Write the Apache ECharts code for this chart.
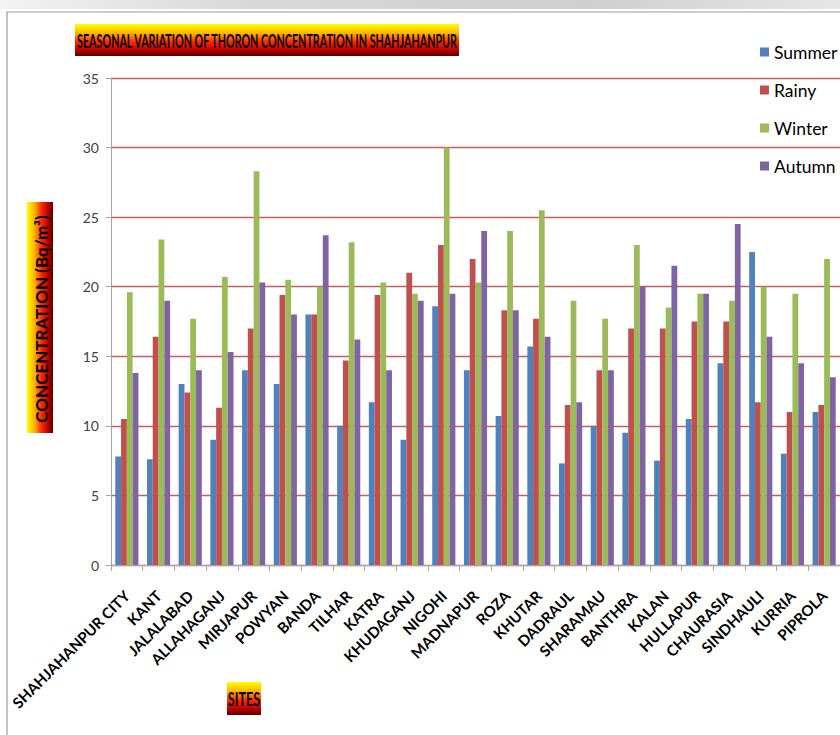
<!DOCTYPE html>
<html>
<head>
<meta charset="utf-8">
<script src="https://cdn.jsdelivr.net/npm/echarts@6/dist/echarts.min.js"></script>
<style>
html,body{margin:0;padding:0;background:#fff;}
#chart{width:840px;height:735px;}
</style>
</head>
<body>
<div id="chart"></div>
<script>
var sites = ['SHAHJAHANPUR CITY','KANT','JALALABAD','ALLAHAGANJ','MIRJAPUR','POWYAN','BANDA','TILHAR','KATRA','KHUDAGANJ','NIGOHI','MADNAPUR','ROZA','KHUTAR','DADRAUL','SHARAMAU','BANTHRA','KALAN','HULLAPUR','CHAURASIA','SINDHAULI','KURRIA','PIPROLA'];
var summer = [7.8,7.6,13.0,9.0,14.0,13.0,18.0,10.0,11.7,9.0,18.6,14.0,10.7,15.7,7.3,10.0,9.5,7.5,10.5,14.5,22.5,8.0,11.0];
var rainy  = [10.5,16.4,12.4,11.3,17.0,19.4,18.0,14.7,19.4,21.0,23.0,22.0,18.3,17.7,11.5,14.0,17.0,17.0,17.5,17.5,11.7,11.0,11.5];
var winter = [19.6,23.4,17.7,20.7,28.3,20.5,20.0,23.2,20.3,19.5,30.0,20.3,24.0,25.5,19.0,17.7,23.0,18.5,19.5,19.0,20.0,19.5,22.0];
var autumn = [13.8,19.0,14.0,15.3,20.3,18.0,23.7,16.2,14.0,19.0,19.5,24.0,18.3,16.4,11.7,14.0,20.0,21.5,19.5,24.5,16.4,14.5,13.5];
var seriesNames = ['Summer','Rainy','Winter','Autumn'];
var seriesColors = ['#4F81BD','#C0504D','#9BBB59','#8064A2'];
var yTicks = {min:0, max:35, step:5};

var chart = echarts.init(document.getElementById('chart'), null, {renderer:'svg'});
function grad(horizontal){
  return new echarts.graphic.LinearGradient(0,0,horizontal?1:0,horizontal?0:1,[
    {offset:0,color:'#ffff00'},{offset:0.3,color:'#ffb000'},{offset:0.55,color:'#ff2a00'},
    {offset:0.8,color:'#c00000'},{offset:1,color:'#5a0000'}]);
}
var allSeries = [summer,rainy,winter,autumn].map(function(d,i){
  return {name:seriesNames[i], type:'bar', data:d, barGap:'0%', barCategoryGap:'27%',
    itemStyle:{color:seriesColors[i]}, animation:false};
});
chart.setOption({
  animation:false,
  backgroundColor:'#ffffff',
  grid:{left:111, top:78, width:733, height:487, containLabel:false},
  legend:{orient:'vertical', left:755, top:38, itemWidth:9, itemHeight:9, itemGap:20, icon:'rect',
    textStyle:{fontFamily:'Lato', fontSize:17.5, color:'#000'}, data:seriesNames},
  xAxis:{type:'category', data:sites,
    axisLine:{lineStyle:{color:'#a6a6a6', width:1}},
    axisTick:{show:true, length:6, alignWithLabel:false, lineStyle:{color:'#a6a6a6'}},
    axisLabel:{interval:0, rotate:45, margin:28, fontFamily:'Lato', fontWeight:'bold', fontSize:15, color:'#000'}},
  yAxis:{type:'value', min:yTicks.min, max:yTicks.max, interval:yTicks.step,
    axisLine:{show:true, lineStyle:{color:'#a6a6a6'}},
    axisTick:{show:true, length:5, lineStyle:{color:'#a6a6a6'}},
    axisLabel:{fontFamily:'Lato', fontSize:14, color:'#404040', margin:12},
    splitLine:{lineStyle:{color:'#d05a58', width:1.3}}},
  graphic:[
    {type:'rect', x:7, y:12, shape:{x:0, y:0, width:900, height:800}, style:{fill:'none', stroke:'#9a9a9a', lineWidth:1.2}, z:-10},
    {type:'rect', x:0, y:0, shape:{x:0, y:0, width:840, height:9}, style:{fill:new echarts.graphic.LinearGradient(0,0,1,0,[{offset:0,color:'#f3f3f3'},{offset:0.3,color:'#d8d8d8'},{offset:0.7,color:'#cfcfcf'},{offset:1,color:'#e6e6e6'}])}, z:-10},
    {type:'group', x:75, y:24, children:[
      {type:'rect', shape:{x:0,y:0,width:384,height:32}, style:{fill:grad(false)}},
      {type:'text', x:192, y:17, scaleX:0.565, style:{text:'SEASONAL VARIATION OF THORON CONCENTRATION IN SHAHJAHANPUR', fill:'#000', font:'bold 19px "Lato"', textAlign:'center', textVerticalAlign:'middle'}}
    ]},
    {type:'group', x:27, y:202, children:[
      {type:'rect', shape:{x:0,y:0,width:26,height:231}, style:{fill:grad(true)}},
      {type:'text', x:14, y:117, rotation:Math.PI/2, style:{text:'CONCENTRATION (Bq/m³)', fill:'#000', font:'bold 17px "Lato"', textAlign:'center', textVerticalAlign:'middle'}}
    ]},
    {type:'group', x:227, y:682, children:[
      {type:'rect', shape:{x:0,y:0,width:34,height:33}, style:{fill:grad(false)}},
      {type:'text', x:17, y:17, scaleX:0.7, style:{text:'SITES', fill:'#000', font:'bold 18px "Lato"', textAlign:'center', textVerticalAlign:'middle'}}
    ]}
  ],
  series: allSeries
});
</script>
</body>
</html>
